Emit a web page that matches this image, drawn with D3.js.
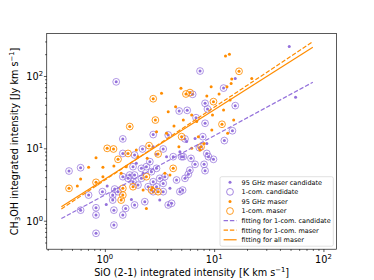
<!DOCTYPE html>
<html>
<head>
<meta charset="utf-8">
<script src="https://cdn.jsdelivr.net/npm/d3@7"></script>
<style>
  body { margin: 0; background: #fff; }
  svg text { font-family: "DejaVu Sans", sans-serif; }
</style>
</head>
<body>
<svg id="chart" width="374" height="280"></svg>
<script>
// [SiO (2-1), CH3OH] integrated intensities
const candOneCom = [
  [0.47,4.86],[0.60,5.40],[0.60,1.40],[0.71,2.26],[0.83,1.51],[0.83,1.20],[0.83,0.67],[0.95,2.52],
  [1.21,1.40],[1.21,0.87],[1.23,2.74],[1.32,2.52],[1.18,2.26],[1.18,1.93],[1.55,1.48],[1.46,1.20],
  [1.27,83],[1.46,13.5],[1.46,8.5],[1.46,4.06],[1.63,3.85],[1.69,4.28],[1.81,5.58],[1.87,4.28],
  [1.81,3.46],[2.01,3.11],[2.16,5.29],[2.16,3.85],[2.40,5.58],[2.58,6.54],[2.21,9.8],[2.77,15.5],
  [2.77,3.46],[3.18,3.85],[3.54,4.06],[3.42,3.28],[3.42,2.52],[3.42,9.8],[3.80,15.3],[5.41,13.5],
  [7.33,10.2],[5.22,7.67],[6.14,7.27],[8.57,8.5],[6.69,6.01],[8.09,6.01],[6.0,5.0],[5.8,4.37],
  [5.41,3.85],[4.86,2.52],[3.80,1.65],[4.08,1.74],[2.32,1.83],[1.87,1.65],[4.79,32.8],[5.67,33.5],
  [6.36,55.8],[6.83,26.5],[7.43,117],[8.26,41.9],[8.69,35],[15.6,38.9],[12.2,68],[8.26,22.2],
  [14.7,17.5],[7.87,14.5],[12.4,12.8],[9.86,7.05],[8.26,4.91],[8.87,7.67],[4.53,3.65],[2.77,2.52],
  [2.97,2.95],[2.49,2.95],[2.67,4.76],[2.97,5.29],[5.15,2.65],[4.22,7.67],[5.04,7.67],[1.87,8.09]
];
const candOther = [
  [48.7,255],[55.6,50.7],[15.6,92],[1.03,1.68],[1.05,3.01],[2.97,8.26],[3.67,7.67],[6.69,13.7],
  [4.86,9.0],[5.6,12.4],[2.24,4.51],[3.94,2.80],[3.18,1.93],[1.75,1.97],[1.94,6.21],[2.77,10.5],
  [8.57,11.7]
];
const maserOneCom = [
  [0.47,2.80],[0.83,3.39],[1.05,10],[1.20,9.8],[1.32,7.05],[1.69,20],[1.63,8.5],[1.46,2.80],
  [1.46,2.26],[1.41,1.93],[2.40,4.06],[1.81,2.95],[2.67,2.65],[3.07,2.52],[2.77,48.5],[2.90,24.6],
  [2.54,10.9],[3.07,8.36],[4.22,5.29],[5.04,14.5],[5.52,56.4],[6.01,58.9],[9.86,44.2],[16.9,116],
  [7.59,10.5],[11.8,21.5]
];
const maserOther = [
  [12.7,189],[13.8,199],[22.1,92],[14.5,90.9],[14.3,79],[13.1,71],[9.39,71],[8.57,53],
  [11.1,56.4],[3.30,57.6],[4.97,67.5],[4.44,37.7],[3.80,32.1],[4.29,20.4],[5.22,24.6],[6.23,28.9],
  [6.92,23.4],[12.2,33.9],[9.66,28.9],[13.3,16.1],[9.52,17.9],[15.1,24.6],[7.17,14.5],[4.76,10.5],
  [6.23,10.0],[1.94,9.48],[2.44,7.27],[3.94,4.28],[2.73,2.86],[2.24,2.65],[2.40,1.48],[0.83,7.43],
  [0.71,5.46],[0.96,5.46],[1.21,5.70],[0.60,3.77],[0.56,3.01],[0.96,4.06],[1.41,4.51],[3.67,16.1],
  [7.43,9.48],[8.09,11.7],[14.0,46.6],[3.54,4.51],[2.97,17.0],[1.57,5.58],[2.01,7.67]
];
// fitted lines, end points
const fitX = [0.4, 80];
const fitCandY = [1.07, 81.9];
const fitMaser1Y = [1.45, 298];
const fitAllY = [1.56, 249];

const xMajor = [1, 10, 100];
const yMajor = [1, 10, 100];
const xLabels = ['0', '1', '2'];
const yLabels = ['0', '1', '2'];

const purple = '#9370DB', orange = '#FF8C00';
const W = 374, H = 280;
const m = { left: 46.75, right: 336.6, top: 33.6, bottom: 249.2 };

const svg = d3.select('#chart');
const x = d3.scaleLog().domain([0.294, 132]).range([m.left, m.right]);
const y = d3.scaleLog().domain([0.404, 385]).range([m.bottom, m.top]);

function minors(dom) {
  let out = [];
  for (let e = -1; e <= 2; e++)
    for (let k = 2; k <= 9; k++) {
      let v = k * Math.pow(10, e);
      if (v >= dom[0] && v <= dom[1]) out.push(v);
    }
  return out;
}

// axes ticks
let gx = svg.append('g').attr('transform', `translate(0,${m.bottom})`);
gx.append('g').call(d3.axisBottom(x).tickValues(minors(x.domain())).tickSize(1.65).tickFormat(() => ''));
gx.append('g').call(d3.axisBottom(x).tickValues(xMajor).tickSize(2.85).tickFormat(() => ''));
let gy = svg.append('g').attr('transform', `translate(${m.left},0)`);
gy.append('g').call(d3.axisLeft(y).tickValues(minors(y.domain())).tickSize(1.65).tickFormat(() => ''));
gy.append('g').call(d3.axisLeft(y).tickValues(yMajor).tickSize(2.85).tickFormat(() => ''));
svg.selectAll('.domain').remove();
svg.selectAll('.tick line').attr('stroke', '#000').attr('stroke-width', 0.65);

// tick labels
xMajor.forEach((v, i) => {
  let t = svg.append('text').attr('x', x(v)).attr('y', 263).attr('text-anchor', 'middle')
    .attr('font-size', 9.7).attr('fill', '#000');
  t.append('tspan').text('10');
  t.append('tspan').attr('font-size', 6.8).attr('dy', -4).text(xLabels[i]);
});
yMajor.forEach((v, i) => {
  let t = svg.append('text').attr('x', 43).attr('y', y(v) + 3.8).attr('text-anchor', 'end')
    .attr('font-size', 9.7).attr('fill', '#000');
  t.append('tspan').text('10');
  t.append('tspan').attr('font-size', 6.8).attr('dy', -4).text(yLabels[i]);
});

// axis labels
let xl = svg.append('text').attr('x', (m.left + m.right) / 2).attr('y', 276)
  .attr('text-anchor', 'middle').attr('font-size', 9.7);
xl.append('tspan').text('SiO (2-1) integrated intensity [K km s');
xl.append('tspan').attr('font-size', 6.8).attr('dy', -4).text('\u22121');
xl.append('tspan').attr('dy', 4).text(']');

let yl = svg.append('text').attr('transform', `translate(17.5,${(m.top + m.bottom) / 2}) rotate(-90)`)
  .attr('text-anchor', 'middle').attr('font-size', 9.7);
yl.append('tspan').text('CH');
yl.append('tspan').attr('font-size', 6.8).attr('dy', 2).text('3');
yl.append('tspan').attr('dy', -2).text('OH integrated intensity [Jy km s');
yl.append('tspan').attr('font-size', 6.8).attr('dy', -4).text('\u22121');
yl.append('tspan').attr('dy', 4).text(']');

// points
let plot = svg.append('g');
plot.selectAll('.cd').data(candOneCom.concat(candOther)).enter().append('circle')
  .attr('cx', d => x(d[0])).attr('cy', d => y(d[1])).attr('r', 1.5).attr('fill', purple);
plot.selectAll('.cc').data(candOneCom).enter().append('circle')
  .attr('cx', d => x(d[0])).attr('cy', d => y(d[1])).attr('r', 3.4)
  .attr('fill', 'none').attr('stroke', purple).attr('stroke-width', 0.85).attr('opacity', 0.85);
plot.selectAll('.md').data(maserOneCom.concat(maserOther)).enter().append('circle')
  .attr('cx', d => x(d[0])).attr('cy', d => y(d[1])).attr('r', 1.5).attr('fill', orange);
plot.selectAll('.mc').data(maserOneCom).enter().append('circle')
  .attr('cx', d => x(d[0])).attr('cy', d => y(d[1])).attr('r', 3.4)
  .attr('fill', 'none').attr('stroke', orange).attr('stroke-width', 0.85);

// fits
const line = d3.line().x(d => x(d[0])).y(d => y(d[1]));
const fits = [
  { ys: fitCandY, color: purple, dash: '4.4,1.9' },
  { ys: fitMaser1Y, color: orange, dash: '4.4,1.9' },
  { ys: fitAllY, color: orange, dash: null }
];
fits.forEach(f => {
  svg.append('path').datum(fitX.map((v, i) => [v, f.ys[i]])).attr('d', line)
    .attr('fill', 'none').attr('stroke', f.color).attr('stroke-width', 1.2)
    .attr('stroke-dasharray', f.dash);
});

// frame
svg.append('rect').attr('x', m.left).attr('y', m.top)
  .attr('width', m.right - m.left).attr('height', m.bottom - m.top)
  .attr('fill', 'none').attr('stroke', '#000').attr('stroke-width', 0.65);

// legend
const legItems = [
  { label: '95 GHz maser candidate', kind: 'dot', color: purple },
  { label: '1-com. candidate', kind: 'ring', color: purple },
  { label: '95 GHz maser', kind: 'dot', color: orange },
  { label: '1-com. maser', kind: 'ring', color: orange },
  { label: 'fitting for 1-com. candidate', kind: 'dash', color: purple },
  { label: 'fitting for 1-com. maser', kind: 'dash', color: orange },
  { label: 'fitting for all maser', kind: 'line', color: orange }
];
let leg = svg.append('g');
leg.append('rect').attr('x', 220).attr('y', 176.7).attr('width', 113.3).attr('height', 69.5)
  .attr('rx', 1.8).attr('fill', '#fff').attr('fill-opacity', 0.8)
  .attr('stroke', '#ccc').attr('stroke-width', 0.6);
legItems.forEach((d, i) => {
  let cy = 182.3 + i * 9.58;
  if (d.kind === 'dot') leg.append('circle').attr('cx', 230).attr('cy', cy).attr('r', 1.5).attr('fill', d.color);
  else if (d.kind === 'ring') leg.append('circle').attr('cx', 230).attr('cy', cy).attr('r', 3.4)
    .attr('fill', 'none').attr('stroke', d.color).attr('stroke-width', 0.85);
  else leg.append('line').attr('x1', 223.6).attr('x2', 236.6).attr('y1', cy).attr('y2', cy)
    .attr('stroke', d.color).attr('stroke-width', 1.2)
    .attr('stroke-dasharray', d.kind === 'dash' ? '4.4,1.9' : null);
  leg.append('text').attr('x', 241.6).attr('y', cy + 2.3).attr('font-size', 6.5).attr('fill', '#000').text(d.label);
});
</script>
</body>
</html>
